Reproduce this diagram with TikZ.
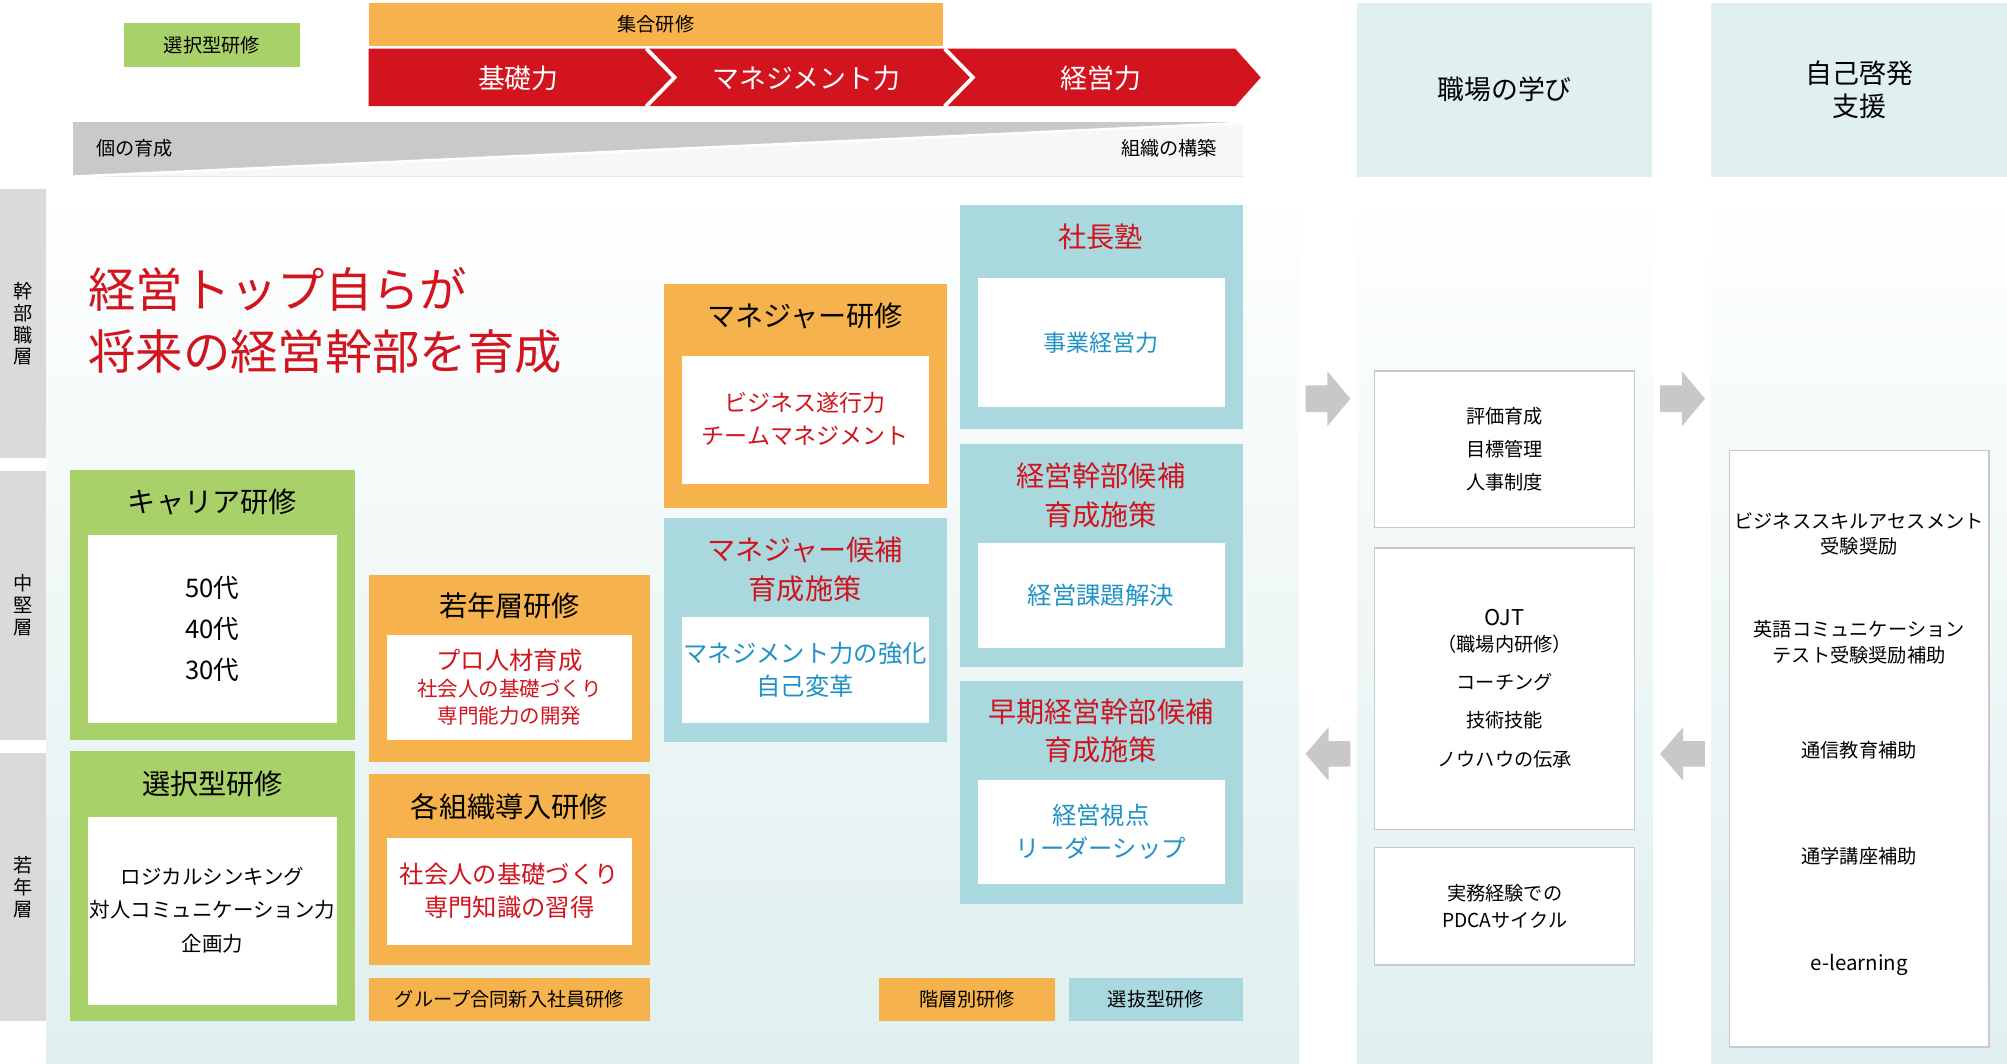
\documentclass[tikz,border=0pt]{standalone}
\usepackage{fontspec}
\setmainfont{Noto Sans CJK JP}
\definecolor{grn}{HTML}{A9D16A}
\definecolor{org}{HTML}{F6B24C}
\definecolor{rd}{HTML}{D2141E}
\definecolor{blu}{HTML}{A9D8DF}
\definecolor{bt}{HTML}{1F93C6}
\definecolor{gry}{HTML}{C9C9C9}
\definecolor{side}{HTML}{DADADA}
\definecolor{pale}{HTML}{E0EFEF}
\definecolor{arr}{HTML}{C8C8C8}
\tikzset{
 box/.style={fill=#1,draw=none},
 inner/.style={fill=white,draw=none},
 wbox/.style={fill=white,draw=gry,line width=0.6pt},
 ttl/.style={font=\fontsize{11}{13}\selectfont,align=center,text=#1},
 txt/.style={font=\fontsize{8.5}{11}\selectfont,align=center,text=#1},
 sm/.style={font=\fontsize{7.5}{10}\selectfont,align=center},
}
\begin{document}
\begin{tikzpicture}[x=0.5pt,y=-0.5pt]
\useasboundingbox (0,0) rectangle (1568,831);
\fill[white] (0,0) rectangle (1568,831);
% background area
\shade[top color=white,bottom color=pale] (36,140) rectangle (1015,831);
\shade[top color=white,bottom color=pale] (1060,145) rectangle (1291,831);
\shade[top color=white,bottom color=pale] (1337,145) rectangle (1568,831);
% top bar
\node[box=grn,minimum width=68.5pt,minimum height=17pt,sm] (sel) at (165.5,35) {選択型研修};
\node[box=org,minimum width=224.5pt,minimum height=17pt,sm] (shu) at (512.5,19) {集合研修};
\fill[rd] (288,38) -- (965,38) -- (985,60.5) -- (965,83) -- (288,83) -- cycle;
\draw[white,line width=1.5pt] (505,38) -- (527,60.5) -- (505,83);
\draw[white,line width=1.5pt] (738,38) -- (760,60.5) -- (738,83);
\node[text=white,font=\fontsize{10.5}{12}\selectfont] (k1) at (405,61) {基礎力};
\node[text=white,font=\fontsize{10.5}{12}\selectfont] (k2) at (630,61) {マネジメント力};
\node[text=white,font=\fontsize{10.5}{12}\selectfont] (k3) at (860,61) {経営力};
\fill[gry] (57,95) rectangle (971,138);
\fill[white!85!gry] (57,138) -- (971,96) -- (971,138) -- cycle;
\draw[white,line width=1pt] (57,138) -- (971,96);
\node[sm,anchor=west] (ko) at (68,116) {個の育成};
\node[sm,anchor=east] (so) at (958,116) {組織の構築};
% left labels
\fill[side] (0,148) rectangle (36,358);
\fill[side] (0,368) rectangle (36,578);
\fill[side] (0,588) rectangle (36,798);
\node[sm,font=\fontsize{7.5}{8.5}\selectfont] (l1) at (18,253) {幹\\部\\職\\層};
\node[sm,font=\fontsize{7.5}{8.5}\selectfont] (l2) at (18,473) {中\\堅\\層};
\node[sm,font=\fontsize{7.5}{8.5}\selectfont] (l3) at (18,693) {若\\年\\層};
% title
\node[anchor=north west,align=left,text=rd,font=\fontsize{18.5}{24}\selectfont] (title) at (62,202) {経営トップ自らが\\将来の経営幹部を育成};
% green boxes
\fill[grn] (55,367) rectangle (277,578); \fill[white] (69,418) rectangle (263,565);
\node[ttl=black] (c1) at (166,392) {キャリア研修};
\node[txt=black,font=\fontsize{10}{16}\selectfont] (c2) at (166,491) {50代\\40代\\30代};
\fill[grn] (55,587) rectangle (277,798); \fill[white] (69,638) rectangle (263,785);
\node[ttl=black] (s1) at (166,612) {選択型研修};
\node[txt=black,font=\fontsize{8}{13}\selectfont] (s2) at (166,711) {ロジカルシンキング\\対人コミュニケーション力\\企画力};
% orange boxes
\fill[org] (288,449) rectangle (508,595); \fill[white] (302,496) rectangle (494,578);
\node[ttl=black] (w1) at (398,473) {若年層研修};
\node[txt=rd,font=\fontsize{8}{10.5}\selectfont] (w2) at (398,537) {{\fontsize{9.5}{11}\selectfont プロ人材育成}\\社会人の基礎づくり\\専門能力の開発};
\fill[org] (288,605) rectangle (508,754); \fill[white] (302,655) rectangle (494,738);
\node[ttl=black] (o1) at (398,630) {各組織導入研修};
\node[txt=rd,font=\fontsize{9.5}{13}\selectfont] (o2) at (398,696) {社会人の基礎づくり\\専門知識の習得};
\node[box=org,minimum width=110pt,minimum height=17pt,sm] (g) at (398,781) {グループ合同新入社員研修};
\fill[org] (519,222) rectangle (740,397); \fill[white] (533,278) rectangle (726,378);
\node[ttl=black] (m1) at (629,247) {マネジャー研修};
\node[txt=rd,font=\fontsize{9}{13}\selectfont] (m2) at (629,327) {ビジネス遂行力\\チームマネジメント};
\fill[blu] (519,405) rectangle (740,580); \fill[white] (533,482) rectangle (726,565);
\node[ttl=rd,font=\fontsize{11}{15}\selectfont] (mc1) at (629,445) {マネジャー候補\\育成施策};
\node[txt=bt,font=\fontsize{9.5}{13}\selectfont] (mc2) at (629,523) {マネジメント力の強化\\自己変革};
\fill[blu] (750,160) rectangle (971,335); \fill[white] (764,217) rectangle (957,318);
\node[ttl=rd] (p1) at (860,185) {社長塾};
\node[txt=bt,font=\fontsize{9}{11}\selectfont] (p2) at (860,268) {事業経営力};
\fill[blu] (750,347) rectangle (971,521); \fill[white] (764,424) rectangle (957,506);
\node[ttl=rd,font=\fontsize{11}{15}\selectfont] (e1) at (860,387) {経営幹部候補\\育成施策};
\node[txt=bt,font=\fontsize{9.5}{11}\selectfont] (e2) at (860,465) {経営課題解決};
\fill[blu] (750,532) rectangle (971,706); \fill[white] (764,609) rectangle (957,691);
\node[ttl=rd,font=\fontsize{11}{15}\selectfont] (f1) at (860,571) {早期経営幹部候補\\育成施策};
\node[txt=bt,font=\fontsize{9.5}{13}\selectfont] (f2) at (860,650) {経営視点\\リーダーシップ};
\node[box=org,minimum width=68.5pt,minimum height=17pt,sm] (kai) at (755.5,781) {階層別研修};
\node[box=blu,minimum width=68pt,minimum height=17pt,sm] (sen) at (903,781) {選抜型研修};
% gray arrows
\fill[arr] (1020,301) -- (1037,301) -- (1037,290) -- (1055,311.5) -- (1037,333) -- (1037,322) -- (1020,322) -- cycle;
\fill[arr] (1297,301) -- (1314,301) -- (1314,290) -- (1332,311.5) -- (1314,333) -- (1314,322) -- (1297,322) -- cycle;
\fill[arr] (1055,579) -- (1038,579) -- (1038,568) -- (1020,589) -- (1038,610) -- (1038,599) -- (1055,599) -- cycle;
\fill[arr] (1332,579) -- (1315,579) -- (1315,568) -- (1297,589) -- (1315,610) -- (1315,599) -- (1332,599) -- cycle;
% right columns
\fill[pale] (1060,2) rectangle (1291,138);
\node[font=\fontsize{10.5}{13}\selectfont] (h1) at (1175.5,70) {職場の学び};
\fill[pale] (1337,2) rectangle (1568,138);
\node[font=\fontsize{10.5}{13}\selectfont,align=center] (h2) at (1452.5,70) {自己啓発\\支援};
\draw[wbox] (1074,290) rectangle (1277,412);
\node[sm,font=\fontsize{7.5}{13}\selectfont] (j1) at (1175.5,351) {評価育成\\目標管理\\人事制度};
\draw[wbox] (1074,428) rectangle (1277,648);
\node[sm,font=\fontsize{7.5}{15}\selectfont] (j2) at (1175.5,538) {{\fontsize{8.5}{10}\selectfont OJT}\\[-5pt]（職場内研修）\\コーチング\\技術技能\\ノウハウの伝承};
\draw[wbox] (1074,662) rectangle (1277,754);
\node[sm,font=\fontsize{7.5}{10.5}\selectfont] (j3) at (1175.5,708) {実務経験での\\PDCAサイクル};
\draw[wbox] (1351,352) rectangle (1554,818);
\node[sm] (a1) at (1452.5,417) {ビジネススキルアセスメント\\受験奨励};
\node[sm] (a2) at (1452.5,502) {英語コミュニケーション\\テスト受験奨励補助};
\node[sm] (a3) at (1452.5,586) {通信教育補助};
\node[sm] (a4) at (1452.5,669) {通学講座補助};
\node[sm,font=\fontsize{8}{10}\selectfont] (a5) at (1452.5,754) {e-learning};
\end{tikzpicture}
\end{document}
